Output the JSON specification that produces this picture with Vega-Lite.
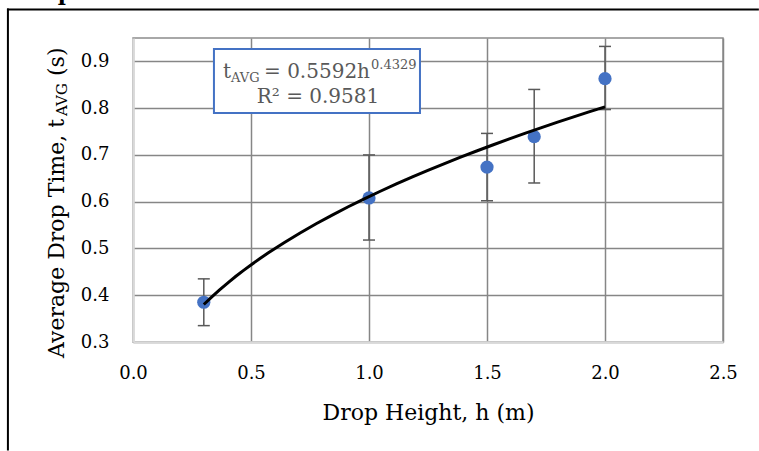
{
  "$schema": "https://vega.github.io/schema/vega-lite/v6.json",
  "width": 590,
  "height": 304,
  "autosize": {"type": "none"},
  "padding": {"left": 133, "top": 38, "right": 36, "bottom": 109},
  "background": "white",
  "title": {"text": "Graph", "anchor": "start", "frame": "group", "font": "DejaVu Serif", "fontSize": 22, "fontWeight": "bold", "color": "black", "dx": -120, "offset": 0, "baseline": "alphabetic", "dy": 14},
  "config": {
    "view": {"stroke": "#8c8c8c", "strokeWidth": 1.5},
    "axis": {
      "grid": true, "gridColor": "#868686", "gridWidth": 1.5,
      "domainColor": "#d9d9d9", "domainWidth": 2.5,
      "ticks": false, "tickSize": 0, "labelFlush": false,
      "labelFont": "DejaVu Serif", "labelFontSize": 18, "labelColor": "black",
      "titleFont": "DejaVu Serif", "titleFontSize": 22, "titleFontWeight": "normal", "titleColor": "black"
    }
  },
  "datasets": {
    "drops": [
      {"h": 0.3, "t": 0.385, "lo": 0.335, "hi": 0.435},
      {"h": 1.0, "t": 0.608, "lo": 0.518, "hi": 0.700},
      {"h": 1.5, "t": 0.674, "lo": 0.602, "hi": 0.746},
      {"h": 1.7, "t": 0.739, "lo": 0.640, "hi": 0.840},
      {"h": 2.0, "t": 0.863, "lo": 0.797, "hi": 0.932}
    ]
  },
  "layer": [
    {
      "data": {"values": [{}]},
      "mark": {"type": "rule", "color": "black", "strokeWidth": 2, "clip": false},
      "encoding": {
        "x": {"datum": -0.53, "type": "quantitative", "scale": {"domain": [0, 2.5], "nice": false, "zero": false}, "axis": {"values": [0, 0.5, 1, 1.5, 2, 2.5], "format": ".1f", "labelPadding": 22, "title": "Drop Height, h (m)", "titlePadding": 20}},
        "y": {"datum": 1.013, "type": "quantitative", "scale": {"domain": [0.3, 0.95], "nice": false, "zero": false}, "axis": {"values": [0.3, 0.4, 0.5, 0.6, 0.7, 0.8, 0.9], "format": ".1f", "labelPadding": 24, "title": null}},
        "y2": {"datum": 0.068}
      }
    },
    {
      "data": {"values": [{}]},
      "mark": {"type": "rule", "color": "black", "strokeWidth": 2, "clip": false},
      "encoding": {
        "x": {"datum": -0.534, "type": "quantitative"},
        "x2": {"datum": 2.652},
        "y": {"datum": 1.011, "type": "quantitative"}
      }
    },
    {
      "data": {"name": "drops"},
      "mark": {"type": "rule", "color": "#595959", "strokeWidth": 1.5},
      "encoding": {
        "x": {"field": "h", "type": "quantitative"},
        "y": {"field": "lo", "type": "quantitative"},
        "y2": {"field": "hi"}
      }
    },
    {
      "data": {"name": "drops"},
      "mark": {"type": "tick", "orient": "horizontal", "color": "#595959", "size": 12, "thickness": 1.5, "opacity": 1},
      "encoding": {
        "x": {"field": "h", "type": "quantitative"},
        "y": {"field": "lo", "type": "quantitative"}
      }
    },
    {
      "data": {"name": "drops"},
      "mark": {"type": "tick", "orient": "horizontal", "color": "#595959", "size": 12, "thickness": 1.5, "opacity": 1},
      "encoding": {
        "x": {"field": "h", "type": "quantitative"},
        "y": {"field": "hi", "type": "quantitative"}
      }
    },
    {
      "data": {"name": "drops"},
      "mark": {"type": "circle", "color": "#4472C4", "size": 175, "opacity": 1},
      "encoding": {
        "x": {"field": "h", "type": "quantitative"},
        "y": {"field": "t", "type": "quantitative"}
      }
    },
    {
      "data": {"name": "drops"},
      "transform": [{"regression": "t", "on": "h", "method": "pow"}],
      "mark": {"type": "line", "color": "black", "strokeWidth": 3},
      "encoding": {
        "x": {"field": "h", "type": "quantitative"},
        "y": {"field": "t", "type": "quantitative"}
      }
    },
    {
      "data": {"values": [{}]},
      "mark": {"type": "rect", "fill": "white", "stroke": "#4472C4", "strokeWidth": 2, "clip": false},
      "encoding": {
        "x": {"datum": 0.343, "type": "quantitative"},
        "x2": {"datum": 1.216},
        "y": {"datum": 0.9265, "type": "quantitative"},
        "y2": {"datum": 0.7896}
      }
    },
    {
      "data": {"values": [{}]},
      "mark": {"type": "text", "text": "t", "font": "DejaVu Serif", "fontSize": 20, "color": "#595959", "align": "left", "baseline": "alphabetic"},
      "encoding": {"x": {"datum": 0.3814, "type": "quantitative"}, "y": {"datum": 0.8645, "type": "quantitative"}}
    },
    {
      "data": {"values": [{}]},
      "mark": {"type": "text", "text": "AVG", "font": "DejaVu Serif", "fontSize": 13, "color": "#595959", "align": "left", "baseline": "alphabetic", "dx": 8, "dy": 4},
      "encoding": {"x": {"datum": 0.3814, "type": "quantitative"}, "y": {"datum": 0.8645, "type": "quantitative"}}
    },
    {
      "data": {"values": [{}]},
      "mark": {"type": "text", "text": "= 0.5592h", "font": "DejaVu Serif", "fontSize": 20, "color": "#595959", "align": "left", "baseline": "alphabetic", "dx": 41},
      "encoding": {"x": {"datum": 0.3814, "type": "quantitative"}, "y": {"datum": 0.8645, "type": "quantitative"}}
    },
    {
      "data": {"values": [{}]},
      "mark": {"type": "text", "text": "0.4329", "font": "DejaVu Serif", "fontSize": 13, "color": "#595959", "align": "left", "baseline": "alphabetic", "dx": 148, "dy": -9},
      "encoding": {"x": {"datum": 0.3814, "type": "quantitative"}, "y": {"datum": 0.8645, "type": "quantitative"}}
    },
    {
      "data": {"values": [{}]},
      "mark": {"type": "text", "text": "R² = 0.9581", "font": "DejaVu Serif", "fontSize": 20, "color": "#595959", "align": "center", "baseline": "alphabetic"},
      "encoding": {"x": {"datum": 0.7839, "type": "quantitative"}, "y": {"datum": 0.811, "type": "quantitative"}}
    },
    {
      "data": {"values": [{}]},
      "mark": {"type": "text", "text": "Average Drop Time, t", "font": "DejaVu Serif", "fontSize": 22, "color": "black", "align": "left", "baseline": "alphabetic", "angle": 270},
      "encoding": {"x": {"datum": -0.2924, "type": "quantitative"}, "y": {"datum": 0.2658, "type": "quantitative"}}
    },
    {
      "data": {"values": [{}]},
      "mark": {"type": "text", "text": "AVG", "font": "DejaVu Serif", "fontSize": 15, "color": "black", "align": "left", "baseline": "alphabetic", "angle": 270, "dx": 242, "dy": 3},
      "encoding": {"x": {"datum": -0.2924, "type": "quantitative"}, "y": {"datum": 0.2658, "type": "quantitative"}}
    },
    {
      "data": {"values": [{}]},
      "mark": {"type": "text", "text": "(s)", "font": "DejaVu Serif", "fontSize": 22, "color": "black", "align": "left", "baseline": "alphabetic", "angle": 270, "dx": 282},
      "encoding": {"x": {"datum": -0.2924, "type": "quantitative"}, "y": {"datum": 0.2658, "type": "quantitative"}}
    }
  ]
}
